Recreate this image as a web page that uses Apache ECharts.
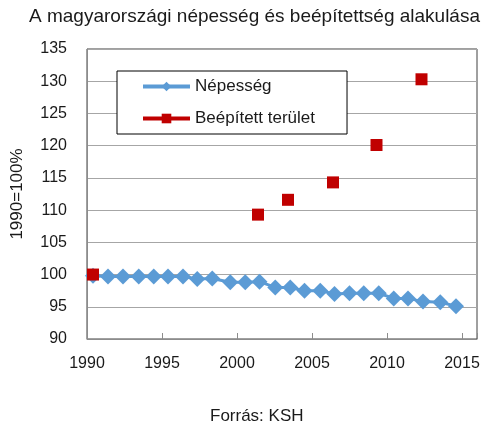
<!DOCTYPE html>
<html lang="hu">
<head>
    <meta charset="UTF-8">
    <title>Népesség és beépítettség</title>
    <script src="https://cdn.jsdelivr.net/npm/echarts@6/dist/echarts.min.js"></script>
    <style>
        html, body { margin: 0; padding: 0; background: #fff; }
        #chart { width: 488px; height: 425px; }
    </style>
</head>
<body>
    <div id="chart"></div>
    <script>
        // adatok (1990=100%)
        var popYears = [1990.4, 1991.4, 1992.4, 1993.45, 1994.45, 1995.4, 1996.4, 1997.35, 1998.35, 1999.55,
                        2000.55, 2001.5, 2002.55, 2003.55, 2004.5, 2005.55, 2006.5, 2007.5, 2008.45, 2009.45,
                        2010.45, 2011.4, 2012.4, 2013.55, 2014.6];
        var popValues = [99.8, 99.7, 99.7, 99.7, 99.7, 99.7, 99.7, 99.3, 99.4, 98.8,
                         98.8, 98.9, 98.0, 98.0, 97.5, 97.5, 97.0, 97.1, 97.1, 97.1,
                         96.3, 96.3, 95.8, 95.7, 95.1];
        var builtYears = [1990.4, 2001.4, 2003.4, 2006.4, 2009.3, 2012.3];
        var builtValues = [100, 109.3, 111.6, 114.3, 120.1, 130.3];

        function pairs(xs, ys) {
            return xs.map(function (x, i) { return [x, ys[i]]; });
        }

        var font = 'Liberation Sans, Arial, sans-serif';
        var myChart = echarts.init(document.getElementById('chart'));

        var option = {
            animation: false,
            textStyle: { fontFamily: font },
            title: [{
                text: 'A magyarországi népesség és beépítettség alakulása',
                left: 29,
                top: 7,
                padding: 0,
                textStyle: { fontSize: 19, fontWeight: 'normal', color: '#1a1a1a', fontFamily: font }
            }, {
                text: 'Forrás: KSH',
                left: 210,
                top: 408,
                padding: 0,
                textStyle: { fontSize: 17, fontWeight: 'normal', color: '#1a1a1a', fontFamily: font }
            }],
            legend: {
                orient: 'vertical',
                left: 117,
                top: 71,
                padding: [7, 32, 7, 24],
                itemWidth: 47,
                itemHeight: 12,
                itemGap: 15,
                backgroundColor: '#fff',
                borderColor: '#000',
                borderWidth: 1,
                textStyle: { fontSize: 17, color: '#1a1a1a', fontFamily: font },
                data: [
                    { name: 'Népesség',
                      lineStyle: { width: 4, color: '#5B9BD5', opacity: 1 } },
                    { name: 'Beépített terület',
                      lineStyle: { width: 4, color: '#C00000', opacity: 1 } }
                ]
            },
            grid: {
                left: 87,
                right: 11,
                top: 49,
                bottom: 86,
                show: true,
                borderColor: '#404040',
                borderWidth: 1
            },
            xAxis: {
                type: 'value',
                min: 1990,
                max: 2016,
                interval: 5,
                axisLine: { show: true, lineStyle: { color: '#8c8c8c' } },
                axisTick: { show: true, inside: true, length: 6, lineStyle: { color: '#8c8c8c' } },
                splitLine: { show: false },
                axisLabel: {
                    fontSize: 16,
                    color: '#1a1a1a',
                    margin: 17,
                    formatter: function (v) { return v % 5 === 0 ? String(v) : ''; }
                }
            },
            yAxis: {
                type: 'value',
                min: 90,
                max: 135,
                interval: 5,
                name: '1990=100%',
                nameLocation: 'middle',
                nameGap: 61,
                nameTextStyle: { fontSize: 17, color: '#1a1a1a' },
                axisLine: { show: true, lineStyle: { color: '#8c8c8c' } },
                axisTick: { show: false },
                splitLine: { show: true, lineStyle: { color: '#a6a6a6', width: 1 } },
                axisLabel: { fontSize: 16, color: '#1a1a1a', margin: 20 }
            },
            series: [{
                name: 'Népesség',
                type: 'line',
                data: pairs(popYears, popValues),
                symbol: 'diamond',
                symbolSize: 16,
                showAllSymbol: true,
                itemStyle: { color: '#5B9BD5' },
                lineStyle: { color: '#5B9BD5', width: 3 }
            }, {
                name: 'Beépített terület',
                type: 'line',
                data: pairs(builtYears, builtValues),
                symbol: 'rect',
                symbolSize: 12,
                itemStyle: { color: '#C00000' },
                lineStyle: { color: '#C00000', width: 0, opacity: 0 }
            }]
        };

        myChart.setOption(option);
    </script>
</body>
</html>
